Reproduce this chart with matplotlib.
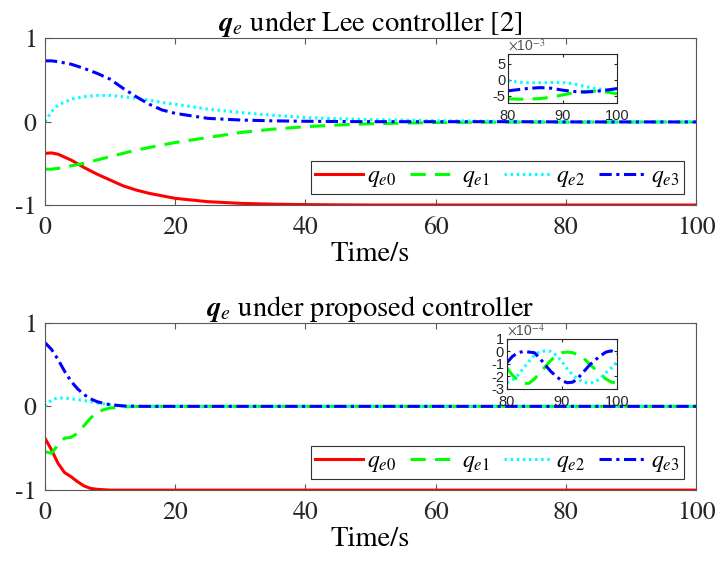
import matplotlib
matplotlib.use("Agg")
import matplotlib.pyplot as plt

plt.rcParams['font.family'] = 'STIXGeneral'
plt.rcParams['mathtext.fontset'] = 'stix'
plt.rcParams['axes.unicode_minus'] = False

# Lee controller, main curves
t_lee = [0, 1, 2, 4, 6, 8, 10, 12, 14, 16, 18, 20, 25, 30, 35, 40, 45, 50, 60, 70, 80, 90, 100]
lee_q0 = [-0.38, -0.375, -0.39, -0.46, -0.55, -0.63, -0.70, -0.77, -0.82, -0.86, -0.89, -0.92,
          -0.96, -0.98, -0.99, -0.995, -0.998, -1.0, -1.0, -1.0, -1.0, -1.0, -1.0]
lee_q1 = [-0.57, -0.57, -0.56, -0.53, -0.50, -0.46, -0.42, -0.38, -0.34, -0.31, -0.28, -0.25,
          -0.19, -0.13, -0.09, -0.06, -0.04, -0.025, -0.01, -0.005, -0.006, -0.004, -0.004]
lee_q2 = [0.0, 0.12, 0.20, 0.27, 0.30, 0.315, 0.315, 0.30, 0.28, 0.26, 0.23, 0.21,
          0.15, 0.11, 0.077, 0.05, 0.035, 0.025, 0.012, 0.005, 0.0, -0.001, -0.003]
lee_q3 = [0.73, 0.73, 0.72, 0.69, 0.64, 0.58, 0.51, 0.40, 0.30, 0.21, 0.14, 0.10,
          0.04, 0.02, 0.01, 0.005, 0.002, 0.0, 0.0, 0.0, -0.003, -0.003, -0.003]

# Lee controller, zoomed tail (x1e-3)
t_lee_tail = [80, 82, 84, 86, 88, 90, 92, 94, 96, 98, 100]
lee_tail_q1 = [-5.9, -6.0, -6.0, -5.8, -5.4, -4.7, -4.0, -3.6, -3.5, -3.8, -4.3]
lee_tail_q2 = [-0.2, -0.7, -0.9, -0.9, -0.8, -0.8, -1.2, -2.0, -2.7, -3.1, -3.2]
lee_tail_q3 = [-3.4, -3.0, -2.6, -2.4, -2.6, -3.2, -3.6, -3.8, -3.6, -3.2, -2.7]

# proposed controller, main curves
t_prop = [0, 1, 2, 3, 4, 5, 6, 7, 8, 9, 10, 12, 15, 20, 40, 60, 80, 100]
prop_q0 = [-0.38, -0.52, -0.68, -0.79, -0.84, -0.90, -0.95, -0.98, -0.99, -0.995, -1.0, -1.0,
           -1.0, -1.0, -1.0, -1.0, -1.0, -1.0]
prop_q1 = [-0.54, -0.56, -0.46, -0.38, -0.37, -0.32, -0.23, -0.14, -0.07, -0.04, -0.02, -0.005,
           0.0, 0.0, 0.0, 0.0, 0.0, 0.0]
prop_q2 = [0.0, 0.08, 0.10, 0.10, 0.09, 0.08, 0.07, 0.055, 0.04, 0.03, 0.02, 0.005,
           0.0, 0.0, 0.0, 0.0, 0.0, 0.0]
prop_q3 = [0.76, 0.68, 0.56, 0.42, 0.30, 0.21, 0.14, 0.09, 0.056, 0.035, 0.02, 0.005,
           0.0, 0.0, 0.0, 0.0, 0.0, 0.0]

# proposed controller, zoomed tail (x1e-4)
t_prop_tail = [80, 81, 82, 83, 84, 85, 86, 87, 88, 89, 90, 91, 92, 93, 94, 95, 96, 97, 98, 99, 100]
prop_tail_q1 = [-1.3, -1.9, -2.3, -2.55, -2.55, -2.2, -1.7, -1.2, -0.7, -0.35, -0.1, -0.05,
                -0.1, -0.3, -0.55, -1.0, -1.4, -1.8, -2.2, -2.45, -2.55]
prop_tail_q2 = [-2.5, -2.3, -1.9, -1.35, -0.8, -0.3, 0.0, 0.05, 0.0, -0.3, -0.8, -1.4,
                -1.9, -2.25, -2.45, -2.55, -2.45, -2.15, -1.7, -1.3, -0.85]
prop_tail_q3 = [-0.9, -0.4, -0.1, 0.0, -0.05, -0.1, -0.55, -1.1, -1.6, -2.0, -2.35, -2.5,
                -2.45, -2.1, -1.6, -1.1, -0.7, -0.35, -0.05, 0.05, -0.2]

labels = [r'$q_{e0}$', r'$q_{e1}$', r'$q_{e2}$', r'$q_{e3}$']
colors = ['#ff0000', '#00ff00', '#00ffff', '#0000ff']
styles = ['-', (0, (5, 3)), (0, (0.8, 1.2)), (0, (4, 1.5, 1, 1.5))]
lw = 2.2
axcol = '0.35'


def main_panel(ax, t, series, title):
    for y, c, ls, lab in zip(series, colors, styles, labels):
        ax.plot(t, y, color=c, linestyle=ls, lw=lw, label=lab)
    ax.set_xlim(0, 100)
    ax.set_ylim(-1, 1)
    ax.set_xticks([0, 20, 40, 60, 80, 100])
    ax.set_yticks([-1, 0, 1])
    for s in ax.spines.values():
        s.set_color(axcol)
        s.set_linewidth(0.8)
    ax.tick_params(direction='in', top=True, right=True, length=4,
                   colors=axcol, labelcolor='0.15', labelsize=18.5)
    ax.tick_params(axis='x', pad=8)
    ax.tick_params(axis='y', pad=6)
    ax.set_title(title, fontsize=20.5, pad=5)
    ax.set_xlabel('Time/s', fontsize=20.5, labelpad=1)
    leg = ax.legend(ncol=4, loc='lower right', bbox_to_anchor=(0.982, 0.066),
                    borderaxespad=0, fontsize=17, handlelength=2.0, handletextpad=0.2,
                    columnspacing=0.6, fancybox=False, framealpha=1,
                    borderpad=0.2, labelspacing=0.2)
    leg.get_frame().set_edgecolor('0.2')
    leg.get_frame().set_linewidth(0.8)


def inset_panel(rect, t, series, ylim, yticks, expo):
    ax = fig.add_axes(rect)
    for y, c, ls in zip(series, colors[1:], styles[1:]):
        ax.plot(t, y, color=c, linestyle=ls, lw=lw)
    ax.set_xlim(80, 100)
    ax.set_ylim(*ylim)
    ax.set_xticks([80, 90, 100])
    ax.set_yticks(yticks)
    for s in ax.spines.values():
        s.set_color('0.15')
        s.set_linewidth(0.8)
    ax.tick_params(direction='in', top=True, right=True, length=2,
                   colors='0.15', labelsize=10.5)
    ax.tick_params(axis='x', pad=4)
    ax.tick_params(axis='y', pad=2)
    for lb in ax.get_xticklabels() + ax.get_yticklabels():
        lb.set_fontfamily('Liberation Sans')
    ax.text(0.0, 1.0, r'$\times$10$^{' + expo + '}$', transform=ax.transAxes,
            fontsize=10, color='0.3', fontfamily='Liberation Sans', va='bottom')
    return ax


fig = plt.figure(figsize=(7.19, 5.64), dpi=100)

ax1 = fig.add_axes([0.0626, 0.6365, 0.9054, 0.2955])
main_panel(ax1, t_lee, [lee_q0, lee_q1, lee_q2, lee_q3],
           r'$\mathbfit{q}_e$ under Lee controller [2]')
inset_panel([0.7066, 0.8174, 0.1516, 0.0869], t_lee_tail,
            [lee_tail_q1, lee_tail_q2, lee_tail_q3], (-7.2, 8.1), [-5, 0, 5], '-3')

ax2 = fig.add_axes([0.0626, 0.131, 0.9054, 0.297])
main_panel(ax2, t_prop, [prop_q0, prop_q1, prop_q2, prop_q3],
           r'$\mathbfit{q}_e$ under proposed controller')
inset_panel([0.705, 0.3103, 0.153, 0.0887], t_prop_tail,
            [prop_tail_q1, prop_tail_q2, prop_tail_q3], (-3, 1), [-3, -2, -1, 0, 1], '-4')

fig.savefig('out.png', dpi=100)
